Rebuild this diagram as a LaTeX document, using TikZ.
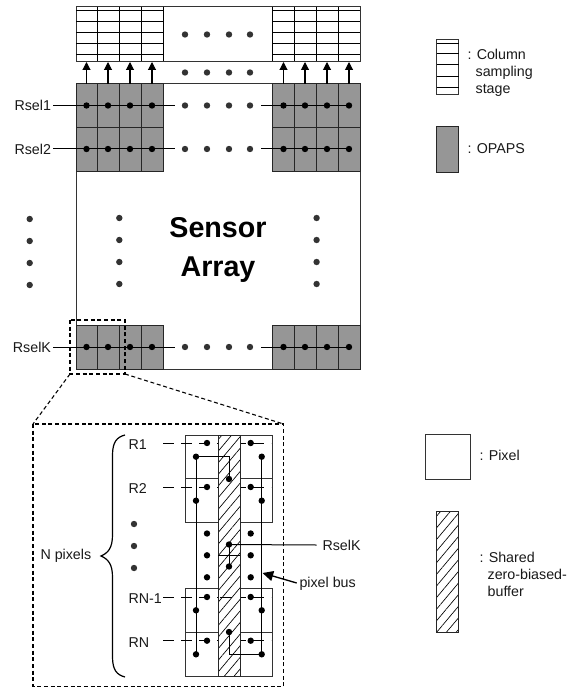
\documentclass[tikz,border=0pt]{standalone}
\usepackage{fontspec}
\setmainfont{Liberation Sans}
\usetikzlibrary{arrows.meta,patterns.meta}
\definecolor{opapsgray}{RGB}{150,150,150}

\begin{document}
\begin{tikzpicture}[x=0.75pt,y=-0.75pt,line width=0.75pt]
  \tikzstyle{lbl}=[inner sep=0pt,font=\fontsize{10.7}{12.75}\selectfont,align=left,text=black!90]
  \tikzstyle{title}=[inner sep=0pt,font=\fontsize{21.5}{29}\selectfont\bfseries,align=center]
  \tikzstyle{dot}=[circle,fill=black,inner sep=0pt,minimum size=4.8pt]
  \tikzstyle{fdot}=[circle,fill=black!80,inner sep=0pt,minimum size=4.8pt]
  \tikzstyle{cell}=[draw=black!85,fill=opapsgray]
  \tikzstyle{hatch}=[draw=black!85,preaction={fill=white},pattern={Lines[angle=50,distance=5.6pt,line width=0.5pt]}]
  \tikzstyle{pix}=[draw=black!80]
  \tikzstyle{flow}=[-{Triangle[length=6pt,width=6pt]},line width=0.8pt]
  \tikzstyle{busflow}=[-{Triangle[length=8pt,width=7.5pt]},line width=1pt]
  \tikzstyle{zoomline}=[dashed,dash pattern=on 3pt off 2pt,line width=0.8pt]
  \tikzstyle{rowline}=[dash pattern=on 8.3pt off 5.2pt]
  \useasboundingbox (0,0) rectangle (578,688);

  % -- Column sampling stage --
  \draw[pix] (76,7) rectangle (360,61.5);
  \foreach \xa/\xb in {76/163,272.5/360}
    \foreach \ya in {10.7,21.7,32.7,44,55}
      \draw (\xa,\ya) -- (\xb,\ya);
  \foreach \xa in {97.5,119.5,141,163,272.5,294.5,316.5,338}
    \draw (\xa,7) -- (\xa,61.5);
  \foreach \xa in {185,207,229,250} {
    \node[fdot] at (\xa,34.5) {};
    \node[fdot] at (\xa,72.5) {};
  }

  % -- Sensor array --
  \draw[pix] (76,84) rectangle (360,369);
  \foreach \xa in {76,97.5,119.5,141,272.5,294.5,316.5,338}
    \foreach \ya in {84,127.7,325} {
      \draw[cell] (\xa,\ya) rectangle ++(22,44);
    }
  \node[title] (array) at (218,250) {Sensor\\ Array};

  % -- Readout arrows --
  \foreach \xa [count=\i] in {86.5,108,130,152,283.5,305,327,349} {
    \coordinate (top\i) at (\xa,84);
    \coordinate (stage\i) at (\xa,62);
    \draw[flow] (top\i) -- (stage\i);
  }

  % -- Row select lines --
  \foreach \ya/\name in {105.5/Rsel1,149/Rsel2,347/RselK} {
    \node[lbl,anchor=east] (\name) at (51.5,\ya) {\name};
    \coordinate (\name a) at (175,\ya);
    \coordinate (\name b) at (261,\ya);
    \coordinate (\name c) at (349,\ya);
    \draw ([xshift=1.2pt]\name.east) -- (\name a);
    \draw (\name b) -- (\name c);
    \foreach \xa in {86.5,108,130,152,283.5,305,327,349}
      \node[dot] at (\xa,\ya) {};
    \foreach \xa in {185,207,229,250}
      \node[fdot] at (\xa,\ya) {};
  }

  % -- Columns of dots --
  \foreach \ya in {219,241,263,285}
    \node[fdot] at (29.7,\ya) {};
  \foreach \xa in {119.3,316.6}
    \foreach \ya in {218,240,262,284}
      \node[fdot] at (\xa,\ya) {};

  % -- Zoomed region --
  \coordinate (za) at (70,374);
  \coordinate (zb) at (125,374);
  \coordinate (zc) at (33,424);
  \coordinate (zd) at (283.5,424);
  \draw[zoomline] (70,320) rectangle (125,374);
  \draw[zoomline] (zc) rectangle (283.5,686.5);
  \draw[zoomline] (za) -- (zc);
  \draw[zoomline] (zb) -- (zd);

  % -- Pixel rows --
  \draw[pix] (185,435) rectangle (272.7,522.7);
  \draw[pix] (185,478.7) -- (272.7,478.7);
  \draw[pix] (185,588.3) rectangle (272.7,676);
  \draw[pix] (185,632) -- (272.7,632);
  \foreach \ya/\name/\txt in {443/r1/R1,487/r2/R2,597/rn1/RN-1,640.7/rn/RN} {
    \node[lbl,anchor=west] (\name) at (128,\ya+1.5) {\txt};
    \coordinate (\name a) at (163,\ya);
    \coordinate (\name b) at (271,\ya);
    \draw[rowline] (\name a) -- (\name b);
  }

  % -- Shared buffer --
  \draw[hatch] (218,435) rectangle (240,676);
  \draw (218,555.5) -- (240,555.5);
  \draw (220,597) -- (232,597);

  \foreach \ya in {443,487,533.5,555.3,577.3,597,640.7} {
    \node[dot] at (207,\ya) {};
    \node[dot] at (250.7,\ya) {};
  }

  % -- Pixel bus --
  \foreach \ya [count=\i] in {456.7,500.7,610.3,654.3} {
    \node[dot] (bl\i) at (196,\ya) {};
    \node[dot] (br\i) at (261.7,\ya) {};
  }
  \node[dot] (c1) at (229,479) {};
  \node[dot] (c2) at (229,544.5) {};
  \node[dot] (c3) at (229,566.5) {};
  \node[dot] (c4) at (229,632) {};
  \draw (bl1.center) -- (bl4.center);
  \draw (br1.center) -- (br4.center);
  \draw (bl1.center) -| (c1.center);
  \draw (c2.center) -- (c3.center);
  \draw (c4.center) |- (br4.center);
  \node[lbl,anchor=west] (rselk) at (322,545) {RselK};
  \draw (c2.center) -- ([xshift=-4pt]rselk.west);
  \node[lbl,anchor=west] (pbus) at (299,583.5) {pixel bus};
  \coordinate (ptip) at (262.5,573);
  \coordinate (ptail) at (296.7,583);
  \draw[busflow] (ptail) -- (ptip);

  % -- N pixels brace --
  \node[lbl,anchor=west] (npix) at (40,556) {N pixels};
  \draw[line width=0.9pt] (125,435) .. controls (117,437) and (112.5,442) .. (112.5,455) -- (112.5,535)
    .. controls (112.5,548) and (108,553) .. (101,556) .. controls (108,559) and (112.5,564) .. (112.5,577)
    -- (112.5,657) .. controls (112.5,670) and (117,675) .. (125,677);
  \foreach \ya in {524,546,568}
    \node[fdot] at (134,\ya) {};

  % -- Legend --
  \draw[pix] (436.7,40) rectangle (458.7,95);
  \foreach \ya in {43.5,53.7,65,76.7,87.5}
    \draw (436.7,\ya) -- (458.7,\ya);
  \node[lbl,anchor=north west] (legcol) at (467,48.5) {: Column\\ \hspace*{6.1pt}sampling\\ \hspace*{6.1pt}stage};
  \draw[cell] (436.7,127) rectangle (458.7,172);
  \node[lbl,anchor=west] (legop) at (467,149) {: OPAPS};
  \draw[pix] (425.7,434.3) rectangle (470,479);
  \node[lbl,anchor=west] (legpix) at (479,455) {: Pixel};
  \draw[hatch] (436.3,511) rectangle (458.7,632);
  \node[lbl,anchor=north west] (legbuf) at (479,551.5) {: Shared\\ \hspace*{6.1pt}zero-biased-\\ \hspace*{6.1pt}buffer};
\end{tikzpicture}
\end{document}
